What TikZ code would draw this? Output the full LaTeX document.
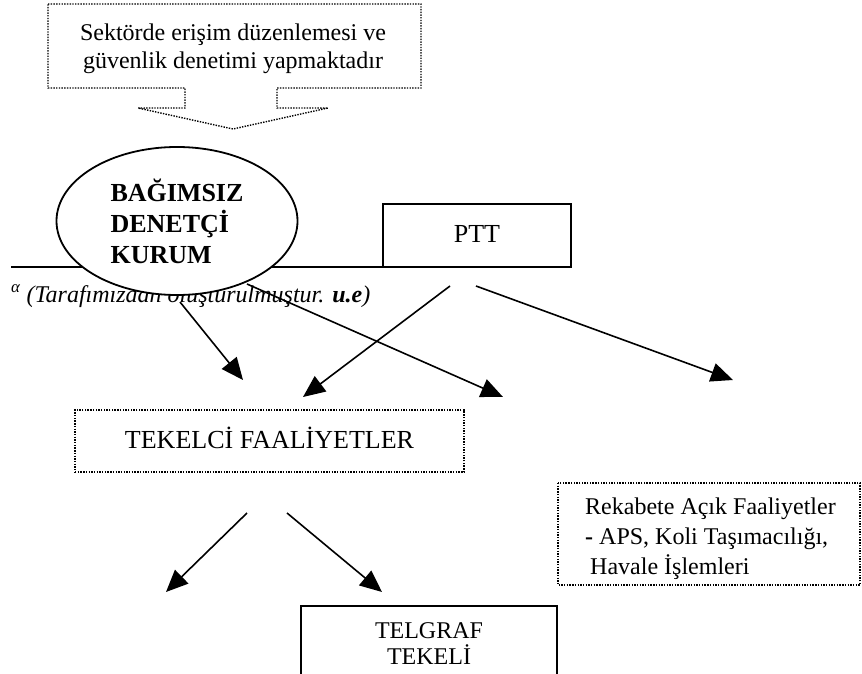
\documentclass[tikz,border=0pt]{standalone}
\usepackage{fontspec}
\setmainfont{Liberation Serif}
\usetikzlibrary{shapes.geometric,arrows.meta}
\tikzset{
  dotline/.style={line width=1.4pt,dash pattern=on 1.4pt off 1.3pt},
  plainbox/.style={draw,line width=1.6pt,fill=white},
  bigtext/.style={font=\fontsize{26}{30}\selectfont},
  midtext/.style={font=\fontsize{24}{28}\selectfont},
}
\begin{document}
\begin{tikzpicture}[x=1pt,y=-1pt]
  \clip (0,0) rectangle (862,674);
  \draw[dotline] (48,4) -- (421,4) -- (421,88) -- (277,88) -- (277,108)
    -- (328,108) -- (233,129) -- (138,108) -- (185,108) -- (185,88)
    -- (48,88) -- cycle;
  \node[midtext,align=center] (note) at (233,49)
    {Sektörde erişim düzenlemesi ve\\güvenlik denetimi yapmaktadır};
  \node[anchor=base west,inner sep=0pt,font=\fontsize{24}{28}\selectfont] (kaynak) at (11,302)
    {\textsuperscript{\itshape α} \textit{(Tarafımızdan oluşturulmuştur. \textbf{u.e})}};
  \draw[line width=1.2pt] (11,267) -- (395,267);
  \node[ellipse,draw,line width=1.8pt,fill=white,minimum width=241pt,minimum height=148pt,
    inner sep=0pt,align=left,font=\bfseries\fontsize{26}{31}\selectfont] (kurum) at (177,221)
    {BAĞIMSIZ\\DENETÇİ\\KURUM};
  \node[plainbox,bigtext,minimum width=188pt,minimum height=63pt,
    text height=17pt,text depth=3pt] (ptt) at (477,235.5) {PTT};
  \node[draw,dotline,bigtext,minimum width=389pt,minimum height=62pt,
    text height=17pt,text depth=3pt] (tekel) at (269.5,441) {TEKELCİ FAALİYETLER};
  \draw[dotline] (558,483) rectangle (860,585);
  \node[anchor=north west,inner sep=0pt,align=left,font=\fontsize{24}{30}\selectfont] (rekabet) at (585,498)
    {Rekabete Açık Faaliyetler\\\textbf{-} APS, Koli Taşımacılığı,\\\hspace*{5pt}Havale İşlemleri};
  \node[plainbox,anchor=north,align=center,minimum width=256pt,minimum height=75pt,
    font=\fontsize{24}{26}\selectfont] (telgraf) at (429,605) {TELGRAF\\TEKELİ};
  \coordinate (k1) at (180,302);
  \coordinate (k2) at (247,284);
  \coordinate (p1) at (450,286);
  \coordinate (p2) at (476,286);
  \coordinate (f1) at (247,513);
  \coordinate (f2) at (287,513);
  \coordinate (t1) at (243,380);
  \coordinate (t2) at (503,397);
  \coordinate (t3) at (303,397);
  \coordinate (t4) at (733,380);
  \coordinate (t5) at (166,592);
  \coordinate (t6) at (382,592);
  \begin{scope}[line width=1.6pt,-{Triangle[length=22pt,width=19pt]}]
    \draw (k1) to (t1);
    \draw (k2) to (t2);
    \draw (p1) to (t3);
    \draw (p2) to (t4);
    \draw (f1) to (t5);
    \draw (f2) to (t6);
  \end{scope}
\end{tikzpicture}
\end{document}
